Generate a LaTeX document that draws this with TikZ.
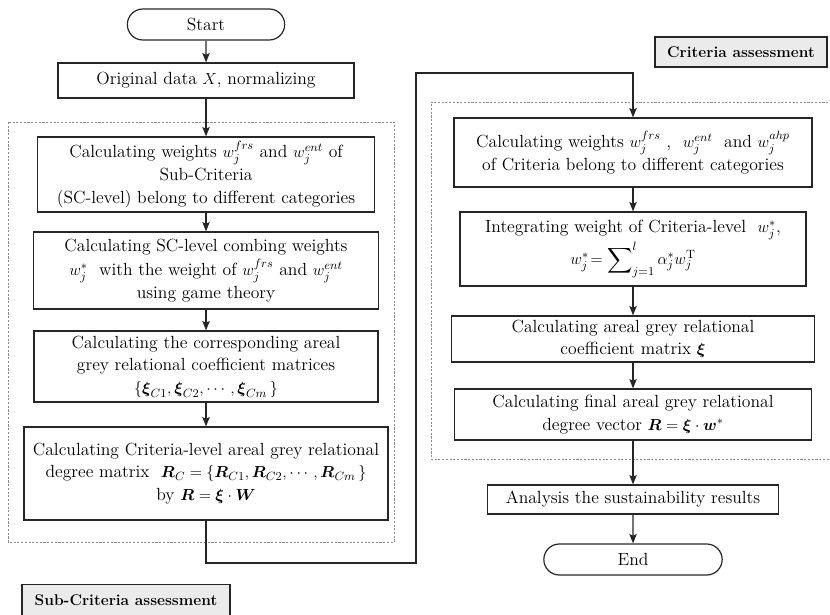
\documentclass[tikz,border=0pt]{standalone}
\usepackage{amsmath}
\usepackage{amssymb}
\usetikzlibrary{arrows.meta,shapes.misc}

\tikzset{
  box/.style={draw=black!85, line width=0.9pt, align=center, inner sep=1pt,
    font=\fontsize{13.2}{17}\selectfont},
  boxsize/.style 2 args={minimum width=#1*0.75pt, minimum height=#2*0.75pt},
  term/.style={box, rounded rectangle},
  tag/.style={box, fill=black!8, font=\fontsize{11.6}{14}\selectfont\bfseries},
  frame/.style={draw=black!45, line width=0.6pt, dash pattern=on 1.6pt off 1.2pt},
  arr/.style={draw=black!85, line width=0.9pt, -{Stealth[length=7pt,width=5.5pt,inset=1.2pt]}}
}

\begin{document}
\begin{tikzpicture}[x=0.75pt,y=-0.75pt]
\useasboundingbox (0,0) rectangle (830,614);
% dotted frames of the two stages
\draw[frame] (8,122) rectangle (394,542);
\draw[frame] (832,102) -- (431,102) -- (431,459) -- (832,459);
% stage labels
\node[tag, boxsize={172}{30}] (critlab) at (741,52) {Criteria assessment};
\node[tag, boxsize={208}{31}] (sublab) at (126,600) {Sub-Criteria assessment};
% draw left column
\node[term, boxsize={160}{31}] (start) at (206,24.5) {Start};
\node[box, boxsize={296}{35}] (orig) at (206,80.5) {Original data $X$, normalizing};
\node[box, boxsize={337}{75}] (scw) at (206,174.5)
  {Calculating weights $w_j^{frs}$ and $w_j^{ent}$ of\\Sub-Criteria\\(SC-level) belong to different categories};
\node[box, boxsize={345}{77}] (sccomb) at (206,270.5)
  {Calculating SC-level combing weights\\[1pt]$w_j^{*}$~ with the weight of $w_j^{frs}$ and $w_j^{ent}$\\using game theory};
\node[box, boxsize={344}{71}] (sccoef) at (206,366.5)
  {Calculating the corresponding areal\\grey relational coefficient matrices\\$\{\boldsymbol{\xi}_{C1},\boldsymbol{\xi}_{C2},\cdots,\boldsymbol{\xi}_{Cm}\,\}$};
\node[box, boxsize={364}{93}] (scmat) at (206,473.5)
  {Calculating Criteria-level areal grey relational\\degree matrix~ $\boldsymbol{R}_C=\{\boldsymbol{R}_{C1},\boldsymbol{R}_{C2},\cdots,\boldsymbol{R}_{Cm}\,\}$\\by $\boldsymbol{R}=\boldsymbol{\xi}\cdot\boldsymbol{W}$};
% draw right column
\node[box, boxsize={358}{69}] (cw) at (633,152.5)
  {Calculating weights $w_j^{frs}$ ,~ $w_j^{ent}$~ and $w_j^{ahp}$\\of Criteria belong to different categories};
\node[box, boxsize={346}{74}] (cint) at (633,249)
  {Integrating weight of Criteria-level~ $w_j^{*}$,\\[1pt]$w_j^{*}\!=\displaystyle\sum\nolimits_{j=1}^{l}\alpha_j^{*}w_j^{\mathrm{T}}$};
\node[box, boxsize={363}{46}] (ccoef) at (633,339)
  {Calculating areal grey relational\\coefficient matrix $\boldsymbol{\xi}$};
\node[box, boxsize={357}{51}] (cfin) at (633,414.5)
  {Calculating final areal grey relational\\degree vector $\boldsymbol{R}=\boldsymbol{\xi}\cdot\boldsymbol{w}^{*}$};
\node[box, boxsize={291}{29}] (result) at (633,499.5) {Analysis the sustainability results};
\node[term, boxsize={181}{31}] (end) at (633,559.5) {End};
% draw arrows
\draw[arr] (start) -- (orig);
\draw[arr] (orig) -- (scw);
\draw[arr] (scw) -- (sccomb);
\draw[arr] (sccomb) -- (sccoef);
\draw[arr] (sccoef) -- (scmat);
\coordinate (turnA) at (416,563);
\coordinate (turnB) at (416,73);
\draw[arr] (scmat.south) |- (turnA) -- (turnB) -| (cw.north);
\draw[arr] (cw) -- (cint);
\draw[arr] (cint) -- (ccoef);
\draw[arr] (ccoef) -- (cfin);
\draw[arr] (cfin) -- (result);
\draw[arr] (result) -- (end);
\end{tikzpicture}
\end{document}
